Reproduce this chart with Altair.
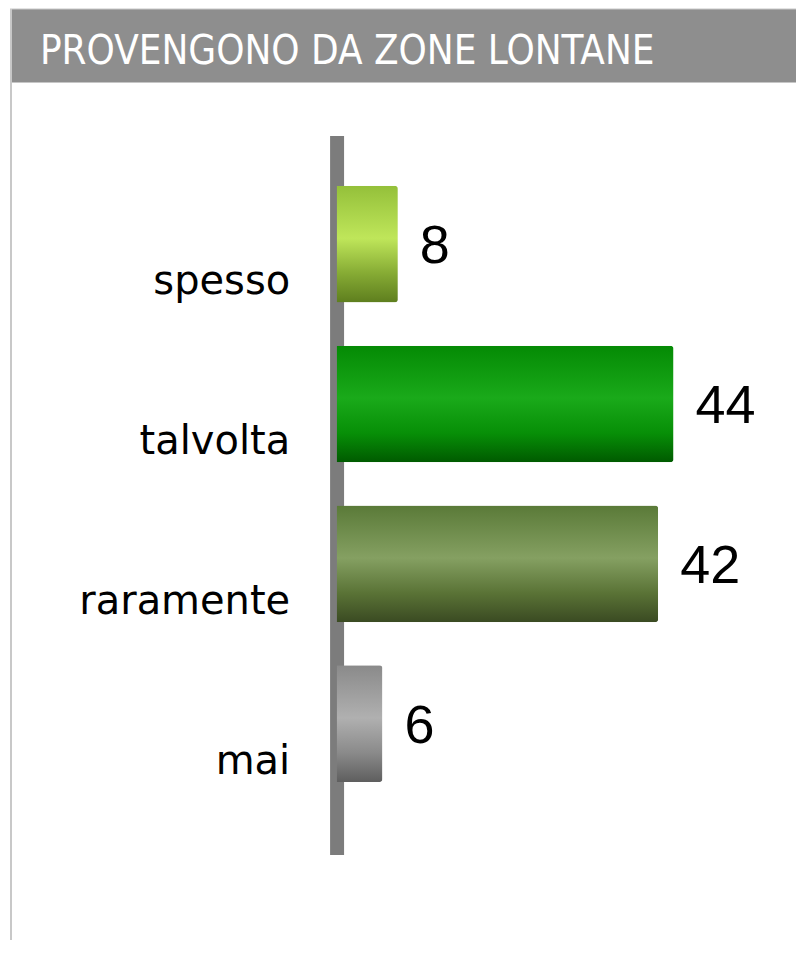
import altair as alt
import pandas as pd

# ---- data ----
categories = ["spesso", "talvolta", "raramente", "mai"]
values = [8, 44, 42, 6]
title_text = "PROVENGONO DA ZONE LONTANE"

# cylinder-like shading stops per category (top, highlight, lower, bottom)
bar_shades = {
    "spesso": ["#94c03a", "#bfe65a", "#86ab34", "#5e7e1e"],
    "talvolta": ["#048a04", "#1aaa1a", "#078f07", "#005a00"],
    "raramente": ["#5a7a38", "#85a062", "#5a7336", "#3a4a22"],
    "mai": ["#8a8a8a", "#b0b0b0", "#8a8a8a", "#5e5e5e"],
}

df = pd.DataFrame({"cat": categories, "val": values})
one = pd.DataFrame({"k": [0]})

PLOT_W = 460
PLOT_H = 720

y_enc = alt.Y(
    "cat:N",
    sort=categories,
    title=None,
    scale=alt.Scale(paddingInner=0.27, paddingOuter=0.384, align=0.41),
    axis=alt.Axis(
        domainColor="#7c7c7c",
        domainWidth=14,
        ticks=False,
        labelFont="DejaVu Sans",
        labelFontSize=40,
        labelColor="#000000",
        labelPadding=47,
        labelOffset=38,
        labelBaseline="middle",
        labelLimit=500,
        grid=False,
    ),
)
x_enc = alt.X("val:Q", scale=alt.Scale(domain=[0, 60]), axis=None)

frame = alt.Chart(one).mark_rect(
    fill=None, stroke="#c8c8c8", strokeWidth=2
).encode(
    x=alt.value(-326), x2=alt.value(480), y=alt.value(-126), y2=alt.value(840)
)

title_bar = alt.Chart(one).mark_rect(fill="#8e8e8e").encode(
    x=alt.value(-325), x2=alt.value(480), y=alt.value(-126), y2=alt.value(-53)
)

title = alt.Chart(one).mark_text(
    text=title_text,
    align="left",
    baseline="alphabetic",
    color="white",
    font="DejaVu Sans Condensed, Liberation Sans Narrow, Liberation Sans",
    fontSize=40,
).encode(x=alt.value(-297), y=alt.value(-72))

bar_layers = []
for c in categories:
    s = bar_shades[c]
    grad = alt.Gradient(
        gradient="linear",
        stops=[
            alt.GradientStop(color=s[0], offset=0),
            alt.GradientStop(color=s[1], offset=0.45),
            alt.GradientStop(color=s[2], offset=0.75),
            alt.GradientStop(color=s[3], offset=1),
        ],
        x1=0, x2=0, y1=0, y2=1,
    )
    bar_layers.append(
        alt.Chart(df)
        .transform_filter(alt.datum.cat == c)
        .mark_bar(color=grad, cornerRadiusEnd=3)
        .encode(x=x_enc, y=y_enc)
    )

labels = alt.Chart(df).mark_text(
    align="left",
    baseline="middle",
    dx=22,
    dy=3,
    font="Liberation Sans",
    fontSize=54,
    color="#000000",
).encode(x=x_enc, y=y_enc, text="val:Q")

chart = alt.layer(frame, title_bar, title, *bar_layers, labels).properties(
    width=PLOT_W,
    height=PLOT_H,
    padding={"left": 329, "top": 127, "right": 0, "bottom": 85},
    autosize=alt.AutoSizeParams(type="none"),
    background="white",
).configure_view(stroke=None)

chart.save("out.html", embed_options={"renderer": "svg", "actions": False})
